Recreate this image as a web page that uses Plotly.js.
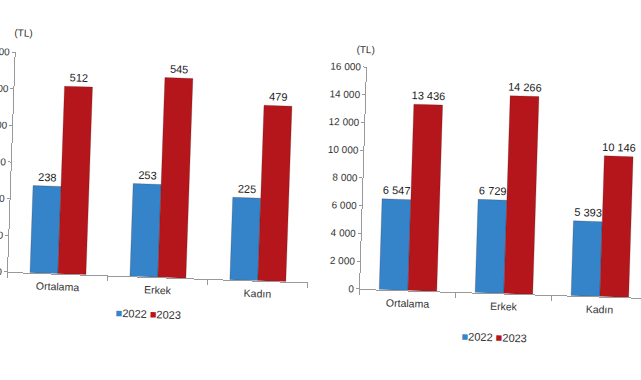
<!DOCTYPE html>
<html>
<head>
<meta charset="utf-8">
<script src="https://cdn.plot.ly/plotly-3.0.1.min.js"></script>
<style>
  html, body { margin:0; padding:0; background:#fff; overflow:hidden; width:641px; height:380px; }
  #left { position:absolute; left:-30px; top:0; width:360px; height:380px; transform-origin:38px 272px; transform:rotate(2deg); }
  #right { position:absolute; left:300px; top:0; width:360px; height:380px; transform-origin:60px 289px; transform:rotate(1.8deg); }
</style>
</head>
<body>
<div id="left"></div>
<div id="right"></div>
<script>
// Data
const categories = ["Ortalama", "Erkek", "Kadın"];
const seriesNames = ["2022", "2023"];
// Left chart (TL)
const left2022 = [238, 253, 225];
const left2023 = [512, 545, 479];
const leftTicks = [0, 100, 200, 300, 400, 500, 600];
// Right chart (TL)
const right2022 = [6547, 6729, 5393];
const right2023 = [13436, 14266, 10146];
const rightTicks = [0, 2000, 4000, 6000, 8000, 10000, 12000, 14000, 16000];

const blue = "#3584c9";
const red = "#b5161b";
const FAM = "Liberation Sans, Arial, sans-serif";
const font = {family: FAM, size: 11, color: "#333"};

function makeFig(v2022, v2023, ticks, yMax, barGap, margin, legendX, legendY, tlShiftX, tlShiftY) {
  const bar = (name, vals, color) => ({
    type: "bar", name: name, x: categories, y: vals,
    marker: {color: color, line: {color: "rgba(60,20,20,0.35)", width: 0.6}},
    texttemplate: "%{y:,}", textposition: "outside", constraintext: "none",
    textfont: {family: FAM, size: 11, color: "#222"},
    cliponaxis: false, showlegend: false
  });
  const data = [bar(seriesNames[0], v2022, blue), bar(seriesNames[1], v2023, red)];
  const legendText = '<span style="color:' + blue + '">■</span>' + seriesNames[0] +
                     ' <span style="color:' + red + '">■</span>' + seriesNames[1];
  const layout = {
    width: 360, height: 380, margin: margin,
    paper_bgcolor: "rgba(0,0,0,0)", plot_bgcolor: "rgba(0,0,0,0)",
    font: font, separators: ", ",
    barmode: "group", bargap: barGap, bargroupgap: 0,
    xaxis: {type: "category", range: [-0.5, 2.5], showline: true, linecolor: "#999", linewidth: 1,
            ticks: "outside", tickson: "boundaries", ticklen: 5, tickcolor: "#999", ticklabelstandoff: 3,
            showgrid: false, zeroline: false, tickfont: {family: FAM, size: 10.5, color: "#333"}},
    yaxis: {range: [0, yMax], tickvals: ticks, tickformat: ",", showline: true, linecolor: "#999", linewidth: 1,
            ticks: "outside", ticklen: 3, tickcolor: "#999", showgrid: false, zeroline: false,
            tickfont: {family: FAM, size: 10, color: "#333"}},
    showlegend: false,
    annotations: [
      {text: "(TL)", xref: "paper", yref: "paper", x: 0, y: 1, xanchor: "left", yanchor: "bottom",
       xshift: tlShiftX, yshift: tlShiftY, showarrow: false, font: {family: FAM, size: 10, color: "#333"}},
      {text: legendText, xref: "paper", yref: "paper", x: legendX, y: legendY, xanchor: "center", yanchor: "middle",
       showarrow: false, font: {family: FAM, size: 11, color: "#333"}}
    ]
  };
  return {data, layout};
}

const L = makeFig(left2022, left2023, leftTicks, 600, 0.44, {l: 38, r: 22, t: 52, b: 108}, 0.47, -0.17, -4, 12);
Plotly.newPlot("left", L.data, L.layout, {staticPlot: true, displayModeBar: false});

const R = makeFig(right2022, right2023, rightTicks, 16000, 0.4, {l: 60, r: 12, t: 67, b: 91}, 0.47, -0.2, -13, 10);
Plotly.newPlot("right", R.data, R.layout, {staticPlot: true, displayModeBar: false});
</script>
</body>
</html>
